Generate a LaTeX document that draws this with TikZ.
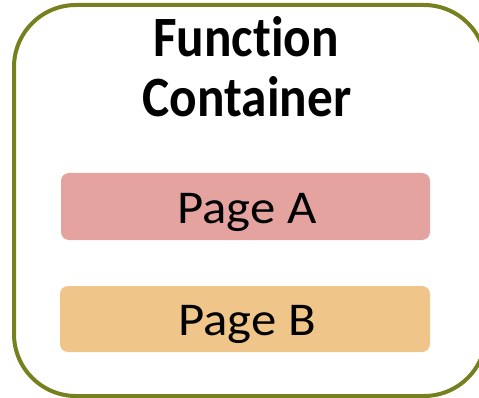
\documentclass[tikz,border=0pt]{standalone}
\usepackage{fontspec}
\setmainfont{Carlito}[Ligatures=NoCommon]
\newfontfamily\titlefont{Carlito}[Ligatures=NoCommon,Contextuals=NoAlternate,FakeStretch=0.9,BoldFont={* Bold}]
\newfontfamily\labelfont{Carlito}[Ligatures=NoCommon,FakeStretch=1.08]
\definecolor{olivebd}{HTML}{77801F}
\definecolor{pagea}{HTML}{E5A3A0}
\definecolor{pageb}{HTML}{F0C589}
\begin{document}
\begin{tikzpicture}[x=1pt,y=-1pt,
  container/.style={draw=olivebd,line width=4pt,rounded corners=62pt},
  pagebox/.style={rounded corners=8pt},
  title/.style={anchor=base,inner sep=0pt,font=\titlefont\fontsize{57}{60}\selectfont\bfseries},
  pagelabel/.style={anchor=base,inner sep=0pt,font=\labelfont\fontsize{47}{50}\selectfont}]
\useasboundingbox (0,0) rectangle (479,398);
% outer container
\draw[container] (14,5) rectangle (486,396);
% the t and i are kept apart so no ligature forms
\node[title] (t1) at (246,57) {Funct\kern0pt ion};
\node[title] (t2) at (247,117) {Container};
% pages
\fill[pagea,pagebox] (61,173) rectangle (430,240);
\node[pagelabel] (pa) at (247,223) {Page A};
\fill[pageb,pagebox] (60,286) rectangle (430,352);
\node[pagelabel] (pb) at (247,335) {Page B};
\end{tikzpicture}
\end{document}
